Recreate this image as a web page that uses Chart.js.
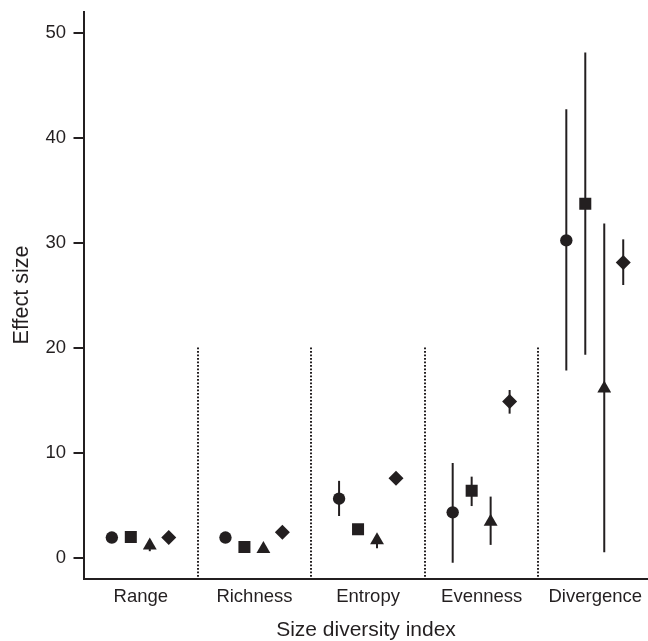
<!DOCTYPE html>
<html>
<head>
<meta charset="utf-8">
<script src="https://cdn.jsdelivr.net/npm/chart.js@4.4.0/dist/chart.umd.min.js"></script>
<style>
  html, body { margin: 0; padding: 0; background: #fff; overflow: hidden; }
  canvas { display: block; }
</style>
</head>
<body>
<canvas id="chart" width="648" height="641"></canvas>
<script>
// categories on the x axis
const categories = ["Range", "Richness", "Entropy", "Evenness", "Divergence"];
const yTicks = [0, 10, 20, 30, 40, 50];

// circle series
const circleVal = [1.9, 1.9, 5.6, 4.3, 30.2];
const circleLo = [1.8, 1.8, 3.95, -0.5, 17.8];
const circleHi = [2.0, 2.0, 7.3, 9.0, 42.7];
// square series
const squareVal = [1.95, 1.0, 2.7, 6.35, 33.7];
const squareLo = [1.9, 0.9, 2.6, 4.9, 19.3];
const squareHi = [2.0, 1.1, 2.8, 7.7, 48.1];
// triangle series
const triangleVal = [1.15, 0.8, 1.65, 3.4, 16.1];
const triangleLo = [0.6, 0.7, 0.88, 1.2, 0.5];
const triangleHi = [1.6, 0.9, 2.2, 5.8, 31.8];
// diamond series
const diamondVal = [1.9, 2.4, 7.55, 14.85, 28.1];
const diamondLo = [1.8, 2.3, 7.4, 13.7, 25.95];
const diamondHi = [2.0, 2.5, 7.7, 15.95, 30.3];

const ink = '#231f20';
const offsets = [-0.255, -0.088, 0.079, 0.246];

const series = [
  { val: circleVal, lo: circleLo, hi: circleHi, style: 'circle', r: 6.2 },
  { val: squareVal, lo: squareLo, hi: squareHi, style: 'rect', r: 8.5 },
  { val: triangleVal, lo: triangleLo, hi: triangleHi, style: 'triangle', r: 8 },
  { val: diamondVal, lo: diamondLo, hi: diamondHi, style: 'rectRot', r: 7.5 }
];

const datasets = series.map((s, k) => ({
  data: s.val.map((v, i) => ({ x: i + 1 + offsets[k], y: v })),
  pointStyle: s.style,
  pointRadius: s.r,
  pointHoverRadius: s.r,
  backgroundColor: ink,
  borderColor: ink,
  borderWidth: 0
}));

// error bars and dotted separators, drawn through the chart scales
const extras = {
  id: 'extras',
  beforeDatasetsDraw(chart) {
    const ctx = chart.ctx;
    const xs = chart.scales.x, ys = chart.scales.y;
    ctx.save();
    ctx.strokeStyle = ink;
    ctx.lineWidth = 2;
    ctx.setLineDash([1.8, 1.7]);
    for (let i = 1; i < categories.length; i++) {
      const px = Math.round(xs.getPixelForValue(i + 0.5));
      ctx.beginPath();
      ctx.moveTo(px, ys.getPixelForValue(20));
      ctx.lineTo(px, chart.chartArea.bottom);
      ctx.stroke();
    }
    ctx.setLineDash([]);
    ctx.lineWidth = 2;
    series.forEach((s, k) => {
      s.val.forEach((v, i) => {
        const px = xs.getPixelForValue(i + 1 + offsets[k]);
        ctx.beginPath();
        ctx.moveTo(px, ys.getPixelForValue(s.lo[i]));
        ctx.lineTo(px, ys.getPixelForValue(s.hi[i]));
        ctx.stroke();
      });
    });
    ctx.restore();
  }
};

new Chart(document.getElementById('chart'), {
  type: 'scatter',
  data: { datasets: datasets },
  plugins: [extras],
  options: {
    responsive: false,
    animation: false,
    layout: { autoPadding: false, padding: { top: 11.5, right: 0, bottom: 0, left: 0 } },
    plugins: { legend: { display: false }, tooltip: { enabled: false } },
    scales: {
      x: {
        type: 'linear',
        min: 0.5,
        max: 5.464,
        afterBuildTicks: scale => { scale.ticks = categories.map((c, i) => ({ value: i + 1 })); },
        afterFit: scale => {
          scale.height = 62.5;
          scale.paddingLeft = 0;
          scale.paddingRight = 0;
        },
        grid: { display: false },
        border: { display: true, color: ink, width: 2 },
        ticks: {
          callback: v => categories[v - 1],
          color: ink,
          font: { family: 'Liberation Sans', size: 18.5 },
          padding: -1,
          maxRotation: 0
        },
        title: {
          display: true,
          text: 'Size diversity index',
          color: ink,
          font: { family: 'Liberation Sans', size: 21, lineHeight: 1 },
          padding: { top: 0, bottom: 0 }
        }
      },
      y: {
        min: -2,
        max: 52,
        afterBuildTicks: scale => { scale.ticks = yTicks.map(v => ({ value: v })); },
        afterFit: scale => {
          scale.width = 84;
          scale.paddingTop = 0;
          scale.paddingBottom = 0;
        },
        grid: { display: true, drawOnChartArea: false, drawTicks: true, tickLength: 10.5, color: ink, lineWidth: 2 },
        border: { display: true, color: ink, width: 2 },
        ticks: {
          color: ink,
          font: { family: 'Liberation Sans', size: 18.5 },
          padding: 7.5
        },
        title: {
          display: true,
          text: 'Effect size',
          color: ink,
          font: { family: 'Liberation Sans', size: 21.5, lineHeight: 1 },
          padding: { top: 11, bottom: 0 }
        }
      }
    }
  }
});
</script>
</body>
</html>
